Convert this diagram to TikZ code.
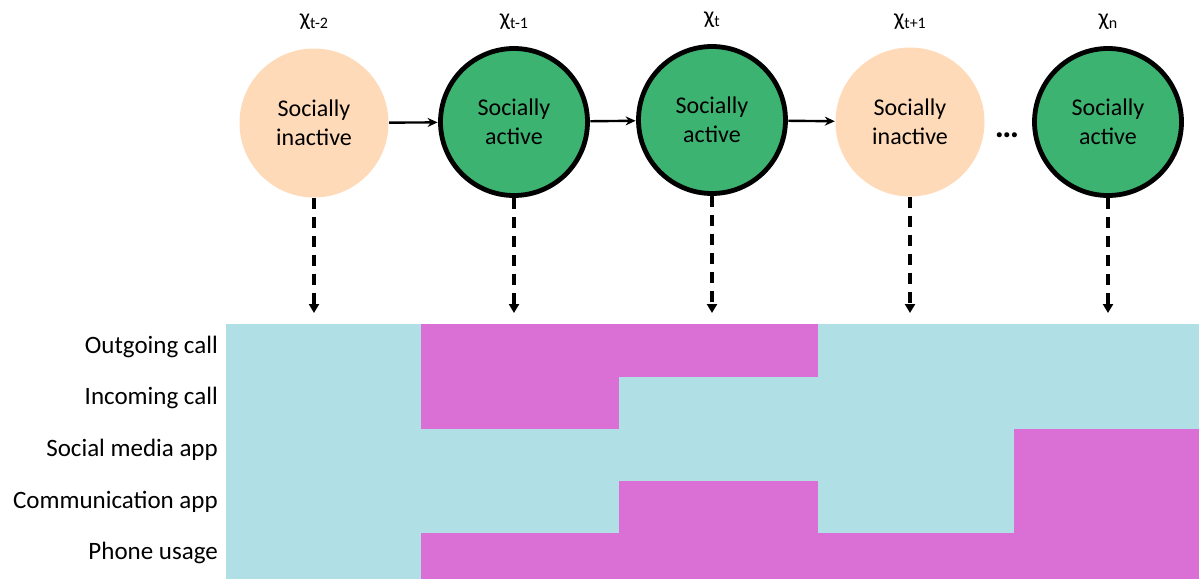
\documentclass[tikz,border=0pt]{standalone}
\usepackage{fontspec}
\setmainfont{Carlito}
\usetikzlibrary{arrows.meta}
\definecolor{cellc}{HTML}{B0DFE5}
\definecolor{cellm}{HTML}{DA70D6}
\definecolor{activeg}{HTML}{3CB371}
\definecolor{inactp}{HTML}{FFDAB9}
\tikzset{
  active/.style={circle, fill=activeg, draw=black, line width=4.8pt, minimum size=147pt, inner sep=0pt, align=center, font=\fontsize{24}{29}\selectfont},
  inactive/.style={circle, fill=inactp, minimum size=149pt, inner sep=0pt, align=center, font=\fontsize{24}{29}\selectfont},
  chilab/.style={font=\fontsize{24}{26}\selectfont, inner sep=0pt},
  rowlab/.style={anchor=east, font=\fontsize{25}{29}\selectfont, inner sep=0pt},
  trans/.style={-{Stealth[length=10pt,width=9pt]}, line width=2.4pt, shorten <=0.5pt, shorten >=0.5pt},
  emit/.style={-{Triangle[length=9pt,width=10pt]}, line width=3.2pt, dash pattern=on 11pt off 8pt},
}
\newcommand{\chisub}[1]{χ\raisebox{-0.25ex}{\fontsize{16}{18}\selectfont #1}}
\begin{document}
\begin{tikzpicture}[x=1pt,y=-1pt]
\useasboundingbox (0,0) rectangle (1199,579);
% grid
\def\ca{226}\def\cb{421}\def\cc{619}\def\cd{818}\def\ce{1014}\def\cf{1199}
\def\ra{324}\def\rb{376.5}\def\rc{429}\def\rd{481}\def\re{533}\def\rf{579}
\fill[cellc] (\ca,\ra) rectangle (\cf,\rf);
% Outgoing call
\fill[cellm] (\cb,\ra) rectangle (\cd,\rb);
% Incoming call
\fill[cellm] (\cb,\rb) rectangle (\cc,\rc);
% Social media app
\fill[cellm] (\ce,\rc) rectangle (\cf,\rd);
% Communication app
\fill[cellm] (\cc,\rd) rectangle (\cd,\re);
\fill[cellm] (\ce,\rd) rectangle (\cf,\re);
% Phone usage
\fill[cellm] (\cb,\re) rectangle (\cf,\rf);
% row labels
\node[rowlab] (l1) at (218,347) {Outgoing call};
\node[rowlab] (l2) at (218,398) {Incoming call};
\node[rowlab] (l3) at (218,450) {Social media app};
\node[rowlab] (l4) at (218,502) {Communication app};
\node[rowlab] (l5) at (218,553) {Phone usage};
% states
\node[inactive] (s1) at (314,123) {Socially\\inactive};
\node[active]   (s2) at (514,122) {Socially\\active};
\node[active]   (s3) at (712,120) {Socially\\active};
\node[inactive] (s4) at (910,122) {Socially\\inactive};
\node[active]   (s5) at (1108,122) {Socially\\active};
% labels
\node[chilab] (x1) at (314,22) {\chisub{t-2}};
\node[chilab] (x2) at (514,22) {\chisub{t-1}};
\node[chilab] (x3) at (712,20) {\chisub{t}};
\node[chilab] (x4) at (910,22) {\chisub{t+1}};
\node[chilab] (x5) at (1108,22) {\chisub{n}};
\node[font=\fontsize{34}{36}\selectfont\bfseries, inner sep=0pt, anchor=base] (dots) at (1007,137) {…};
% transitions
\draw[trans] (s1) -- (s2);
\draw[trans] (s2) -- (s3);
\draw[trans] (s3) -- (s4);
% emissions
\coordinate (e1) at (314,313);
\coordinate (e2) at (514,313);
\coordinate (e3) at (712,313);
\coordinate (e4) at (910,313);
\coordinate (e5) at (1108,313);
\draw[emit] (s1.south) -- (e1);
\draw[emit] (s2.south) -- (e2);
\draw[emit] (s3.south) -- (e3);
\draw[emit] (s4.south) -- (e4);
\draw[emit] (s5.south) -- (e5);
\end{tikzpicture}
\end{document}
